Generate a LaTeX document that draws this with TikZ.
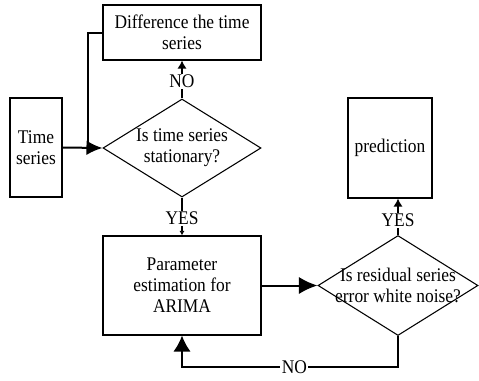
\documentclass[tikz,border=0pt]{standalone}
\usepackage{fontspec}
\setmainfont[FakeStretch=0.9]{Liberation Serif}
\usetikzlibrary{shapes.geometric,arrows.meta}
\begin{document}
\begin{tikzpicture}[x=0.75pt,y=-0.75pt,
    font=\fontsize{14.5}{15.75}\selectfont,
    box/.style={draw,line width=0.8pt,align=center,inner sep=0pt},
    decision/.style={draw,line width=0.8pt,diamond,align=center,inner sep=0pt,aspect=1.6},
    conn/.style={line width=1.5pt},
    lbl/.style={fill=white,inner sep=1pt}]
  \useasboundingbox (0,0) rectangle (479,380);
  \node[box,minimum width=39pt,minimum height=74.25pt] (ts) at (36,147.5) {Time\\series};
  \node[box,minimum width=118.5pt,minimum height=41.25pt] (diff) at (182,32.5) {Difference the time\\series};
  \node[decision,inner xsep=-3pt,minimum width=118.5pt,minimum height=73.5pt] (stat) at (182,148) {Is time series\\stationary?};
  \node[box,minimum width=118.5pt,minimum height=74.25pt] (arima) at (182,285.5) {Parameter\\estimation for\\ARIMA};
  \node[decision,inner xsep=-11pt,minimum width=120pt,minimum height=75pt] (white) at (398,285.5) {Is residual series\\error white noise?};
  \node[box,minimum width=63pt,minimum height=75pt] (pred) at (390,148) {prediction};
  \coordinate (join) at (88,148);
  \draw[conn] (diff.west) -| (join);
  \draw[conn,-{Latex[length=12pt,width=11pt]}] (ts.east) -- (stat.west);
  \draw[conn,-{Latex[length=6pt,width=7pt]}] (stat.north) -- node[lbl,pos=0.45] {NO} (diff.south);
  \draw[conn,-{Latex[length=3.5pt,width=4pt]}] (stat.south) -- node[lbl,pos=0.55] {YES} (arima.north);
  \draw[conn,-{Latex[length=14pt,width=13pt]}] (arima.east) -- (white.west);
  \draw[conn,-{Latex[length=6pt,width=7pt]}] (white.north) -- node[lbl,pos=0.4] {YES} (white.north |- pred.south);
  \draw[conn,-{Latex[length=12pt,width=13pt]}] (white.south) -- ++(0,31)
    -| node[lbl,pos=0.24] {NO} (arima.south);
\end{tikzpicture}
\end{document}
